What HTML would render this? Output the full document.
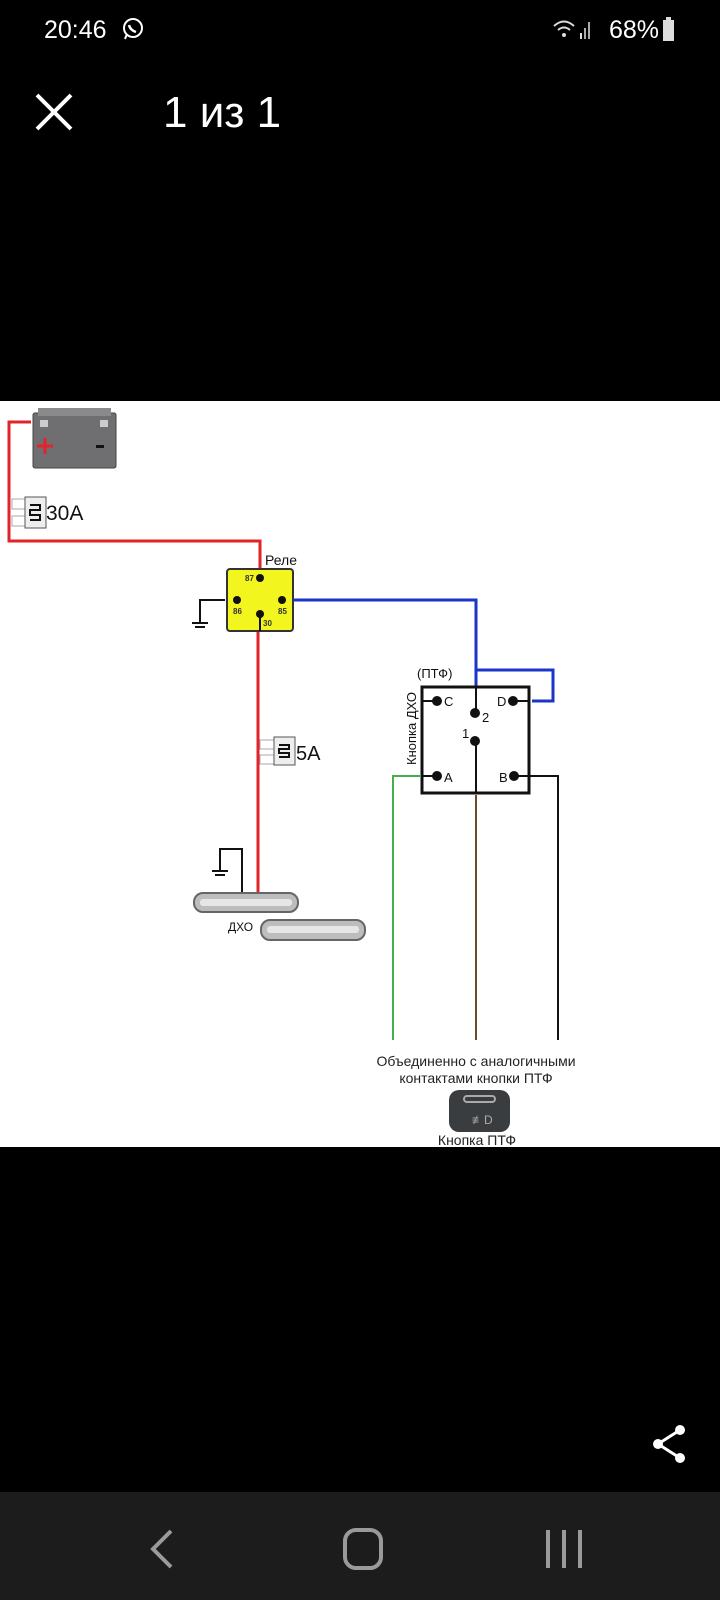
<!DOCTYPE html>
<html><head><meta charset="utf-8"><style>
html,body{margin:0;padding:0;background:#000;width:720px;height:1600px;overflow:hidden;font-family:"Liberation Sans","Noto Sans CJK SC",sans-serif}
.t{position:absolute;color:#fff;white-space:nowrap}
</style></head><body>
<div class="t" style="left:44px;top:16px;font-size:25px">20:46</div>
<svg style="position:absolute;left:121px;top:17px" width="24" height="24" viewBox="0 0 24 24"><circle cx="12" cy="11" r="9" fill="none" stroke="#fff" stroke-width="2"/><path d="M4 22 L6 17" stroke="#fff" stroke-width="2"/><path d="M8 8 q1 5 7 7" stroke="#fff" stroke-width="2.5" fill="none"/></svg>
<div class="t" style="left:609px;top:16px;font-size:25px">68%</div>
<div style="position:absolute;left:663px;top:20px;width:11px;height:21px;background:#ddd"></div>
<div style="position:absolute;left:666px;top:17px;width:5px;height:3px;background:#ddd"></div>
<svg style="position:absolute;left:552px;top:18px" width="40" height="24"><path d="M2 8 Q12 -1 22 8" stroke="#ddd" stroke-width="2" fill="none"/><path d="M6 12 Q12 7 18 12" stroke="#ddd" stroke-width="2" fill="none"/><circle cx="12" cy="17" r="2" fill="#ddd"/><rect x="28" y="15" width="2" height="6" fill="#ddd"/><rect x="32" y="10" width="2" height="11" fill="#aaa"/><rect x="36" y="4" width="2" height="17" fill="#aaa"/></svg>
<svg style="position:absolute;left:34px;top:92px" width="40" height="40"><path d="M3 3 L37 37 M37 3 L3 37" stroke="#fff" stroke-width="4"/></svg>
<div class="t" style="left:163px;top:88px;font-size:44px">1 из 1</div>

<svg style="position:absolute;left:0;top:401px" width="720" height="746" viewBox="0 401 720 746">
<rect x="0" y="401" width="720" height="746" fill="#fff"/>
<path d="M31 422 H9 V541 H260 V570" stroke="#e0242a" stroke-width="3" fill="none"/>
<path d="M258 631 V896" stroke="#e0242a" stroke-width="3" fill="none"/>
<rect x="33" y="413" width="83" height="55" rx="2" fill="#6f6f72" stroke="#444"/>
<rect x="38" y="408" width="73" height="8" fill="#8a8a8d"/>
<rect x="40" y="420" width="8" height="7" fill="#ccc"/><rect x="100" y="420" width="8" height="7" fill="#ccc"/>
<path d="M37 446 H53 M45 438 V454" stroke="#e0242a" stroke-width="3"/>
<rect x="96" y="445" width="8" height="3" fill="#111"/>
<rect x="12" y="499" width="16" height="10" fill="#fff" stroke="#aaa"/><rect x="12" y="516" width="16" height="10" fill="#fff" stroke="#aaa"/>
<rect x="25" y="497" width="21" height="31" fill="#eee" stroke="#555"/>
<path d="M30 505 h10 v5 h-10 v5 h10 v5 h-10" stroke="#111" stroke-width="2" fill="none"/>
<text x="46" y="520" font-size="21" fill="#111">30A</text>
<text x="265" y="565" font-size="14" fill="#111">Реле</text>
<rect x="227" y="569" width="66" height="62" rx="3" fill="#f2f51e" stroke="#333" stroke-width="2"/>
<circle cx="260" cy="578" r="4" fill="#111"/><circle cx="237" cy="600" r="4" fill="#111"/><circle cx="282" cy="600" r="4" fill="#111"/><circle cx="260" cy="614" r="4" fill="#111"/>
<path d="M260 613 V631" stroke="#111" stroke-width="2"/>
<text x="245" y="581" font-size="8" font-weight="bold" fill="#333">87</text>
<text x="233" y="614" font-size="8" font-weight="bold" fill="#333">86</text>
<text x="278" y="614" font-size="8" font-weight="bold" fill="#333">85</text>
<text x="263" y="626" font-size="8" font-weight="bold" fill="#333">30</text>
<path d="M225 600 H200 V622 M192 623 H208 M195 627 H205" stroke="#111" stroke-width="2" fill="none"/>
<path d="M293 600 H476 V686 M476 670 H553 V701 H532" stroke="#1a35c8" stroke-width="3" fill="none"/>
<text x="417" y="678" font-size="13" fill="#111">(ПТФ)</text>
<text transform="translate(416,765) rotate(-90)" font-size="13" fill="#111">Кнопка ДХО</text>
<rect x="422" y="687" width="107" height="106" fill="none" stroke="#111" stroke-width="3"/>
<path d="M476 687 V712 M476 741 V793 M422 701 H437 M513 701 H529 M422 776 H437 M513 776 H529" stroke="#111" stroke-width="2"/>
<circle cx="437" cy="701" r="5" fill="#111"/><circle cx="513" cy="701" r="5" fill="#111"/>
<circle cx="437" cy="776" r="5" fill="#111"/><circle cx="514" cy="776" r="5" fill="#111"/>
<circle cx="475" cy="713" r="5" fill="#111"/><circle cx="475" cy="741" r="5" fill="#111"/>
<text x="444" y="706" font-size="13" fill="#111">C</text><text x="497" y="706" font-size="13" fill="#111">D</text>
<text x="444" y="782" font-size="13" fill="#111">A</text><text x="499" y="782" font-size="13" fill="#111">B</text>
<text x="482" y="722" font-size="13" fill="#111">2</text><text x="462" y="738" font-size="13" fill="#111">1</text>
<path d="M421 776 H393 V1040" stroke="#44b04c" stroke-width="2" fill="none"/>
<path d="M476 795 V1040" stroke="#6b4b2a" stroke-width="2" fill="none"/>
<path d="M530 776 H558 V1040" stroke="#111" stroke-width="2" fill="none"/>
<rect x="260" y="740" width="16" height="9" fill="#fff" stroke="#aaa"/><rect x="260" y="755" width="16" height="9" fill="#fff" stroke="#aaa"/>
<rect x="274" y="737" width="21" height="28" fill="#eee" stroke="#555"/>
<path d="M279 745 h10 v4 h-10 v4 h10 v4 h-10" stroke="#111" stroke-width="2" fill="none"/>
<text x="296" y="760" font-size="20" fill="#111">5A</text>
<path d="M242 896 V849 H220 V870 M212 871 H228 M215 875 H225" stroke="#111" stroke-width="2" fill="none"/>
<rect x="194" y="893" width="104" height="19" rx="9" fill="#bdbdbd" stroke="#666" stroke-width="2"/>
<rect x="200" y="899" width="92" height="7" rx="3" fill="#e6e6e6"/>
<rect x="261" y="920" width="104" height="20" rx="9" fill="#bdbdbd" stroke="#666" stroke-width="2"/>
<rect x="267" y="926" width="92" height="7" rx="3" fill="#e6e6e6"/>
<text x="228" y="931" font-size="12" fill="#111">ДХО</text>
<text x="476" y="1066" font-size="14" fill="#222" text-anchor="middle">Объединенно с аналогичными</text>
<text x="476" y="1083" font-size="14" fill="#222" text-anchor="middle">контактами кнопки ПТФ</text>
<rect x="449" y="1090" width="61" height="42" rx="10" fill="#3a3d40"/>
<rect x="464" y="1096" width="31" height="6" rx="3" fill="none" stroke="#aaa" stroke-width="2"/>
<text x="472" y="1124" font-size="12" fill="#aaa">≢D</text>
<text x="477" y="1145" font-size="14" fill="#222" text-anchor="middle">Кнопка ПТФ</text>
</svg>

<svg style="position:absolute;left:648px;top:1422px" width="44" height="44"><path d="M32 8 L10 22 L32 36" stroke="#fff" stroke-width="3" fill="none"/><circle cx="32" cy="8" r="5" fill="#fff"/><circle cx="10" cy="22" r="5" fill="#fff"/><circle cx="32" cy="36" r="5" fill="#fff"/></svg>
<div style="position:absolute;left:0;top:1492px;width:720px;height:108px;background:#1c1c1c"></div>
<svg style="position:absolute;left:0;top:1492px" width="720" height="108"><path d="M171 39 L153 57 L171 75" stroke="#9a9a9a" stroke-width="4" fill="none"/><rect x="345" y="38" width="36" height="38" rx="11" fill="none" stroke="#9a9a9a" stroke-width="4"/><path d="M548 38 V76 M564 38 V76 M580 38 V76" stroke="#9a9a9a" stroke-width="4"/></svg>
</body></html>
